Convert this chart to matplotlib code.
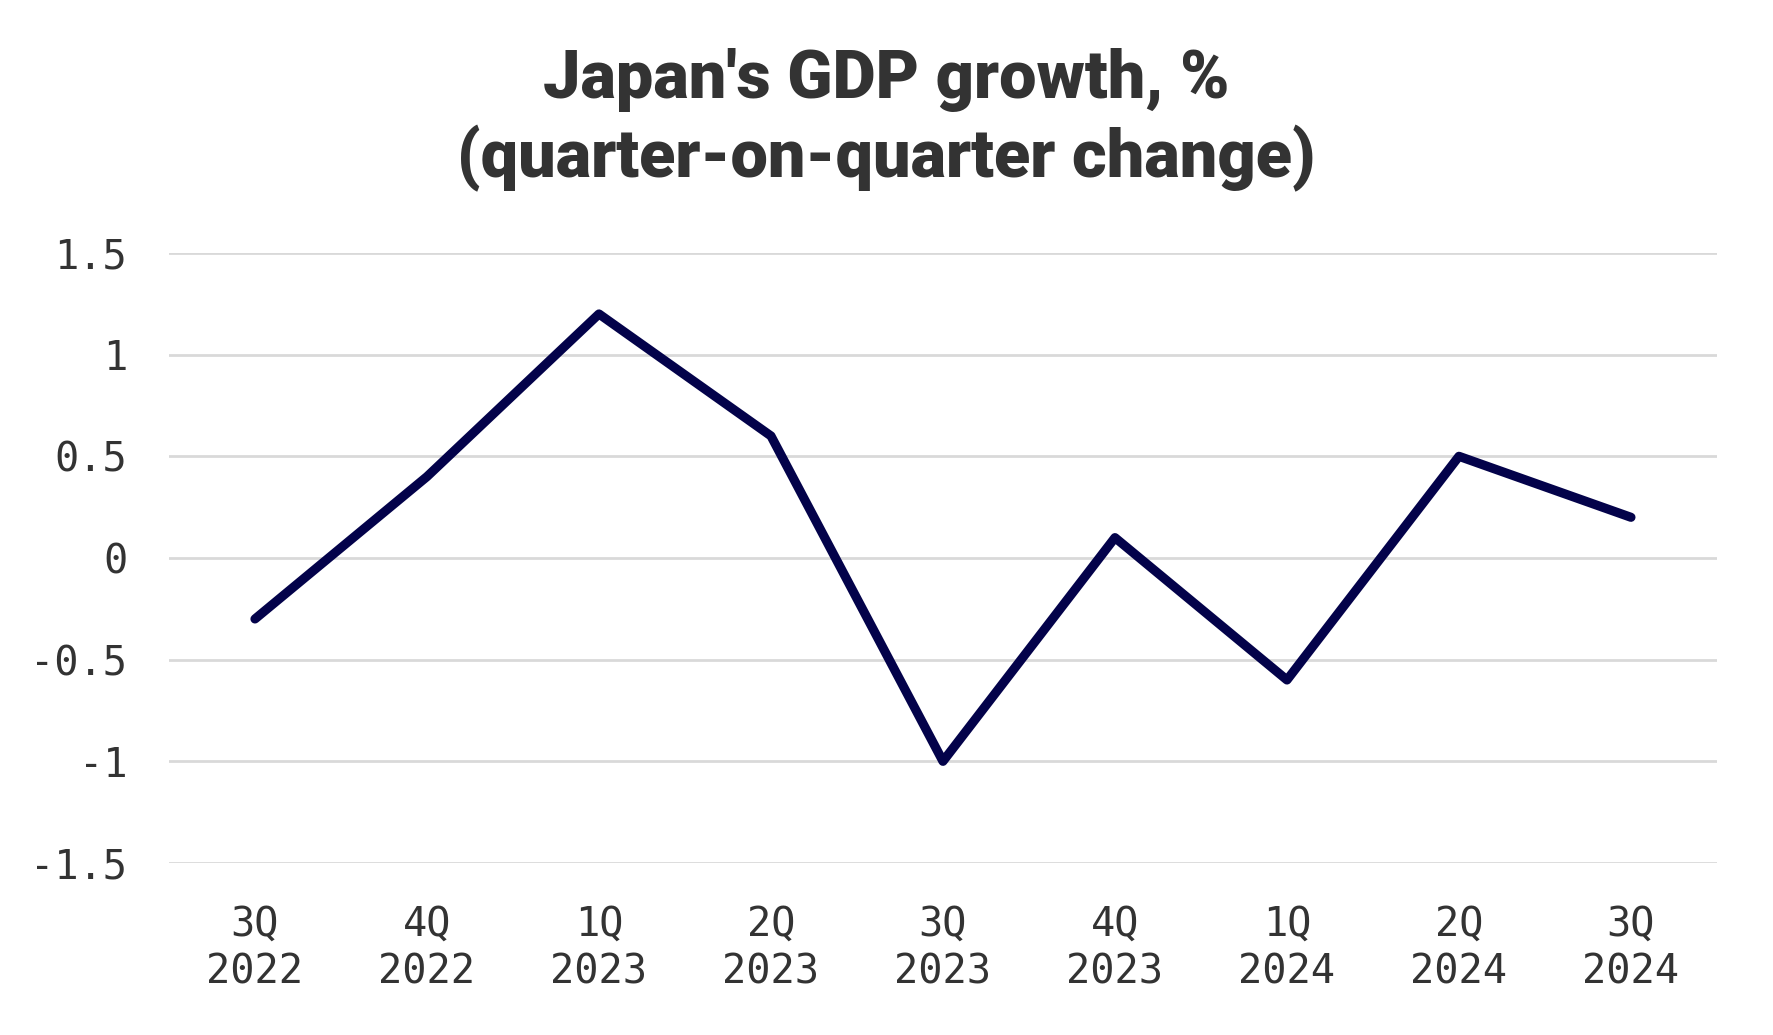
import matplotlib
matplotlib.use("Agg")
import matplotlib.pyplot as plt

# Data
quarters = ["3Q\n2022", "4Q\n2022", "1Q\n2023", "2Q\n2023", "3Q\n2023",
            "4Q\n2023", "1Q\n2024", "2Q\n2024", "3Q\n2024"]
growth = [-0.3, 0.4, 1.2, 0.6, -1.0, 0.1, -0.6, 0.5, 0.2]
yticks = [-1.5, -1, -0.5, 0, 0.5, 1, 1.5]
ytick_labels = ["-1.5", "-1", "-0.5", "0", "0.5", "1", "1.5"]

text_color = "#333333"
line_color = "#03024a"

fig = plt.figure(figsize=(17.73, 10.35), dpi=100)
ax = fig.add_axes([0.0953, 0.1662, 0.8731, 0.5894])

x = range(len(quarters))
ax.plot(x, growth, color=line_color, linewidth=6.6,
        solid_capstyle="round", solid_joinstyle="round", zorder=3)

ax.set_xlim(-0.5, len(quarters) - 0.5)
ax.set_ylim(-1.5, 1.5)
ax.set_yticks(yticks)
ax.set_yticklabels(ytick_labels)
ax.set_xticks(list(x))
ax.set_xticklabels(quarters, linespacing=1.25)

for lab in ax.get_xticklabels() + ax.get_yticklabels():
    lab.set_fontfamily("DejaVu Sans Mono")
    lab.set_fontsize(29)
    lab.set_color(text_color)

ax.tick_params(axis="both", length=0)
ax.tick_params(axis="y", pad=30)
ax.tick_params(axis="x", pad=30)

ax.grid(axis="y", color="#d9d9d9", linewidth=2)
ax.set_axisbelow(True)
for s in ax.spines.values():
    s.set_visible(False)

# Title
fig.text(0.5, 0.9053, "Japan's GDP growth, %", ha="center", va="baseline",
         fontsize=48, fontweight="heavy", family="Roboto", color=text_color)
fig.text(0.5, 0.829, "(quarter-on-quarter change)", ha="center", va="baseline",
         fontsize=48, fontweight="heavy", family="Roboto", color=text_color)

fig.savefig("out.png", dpi=100, facecolor="white")
